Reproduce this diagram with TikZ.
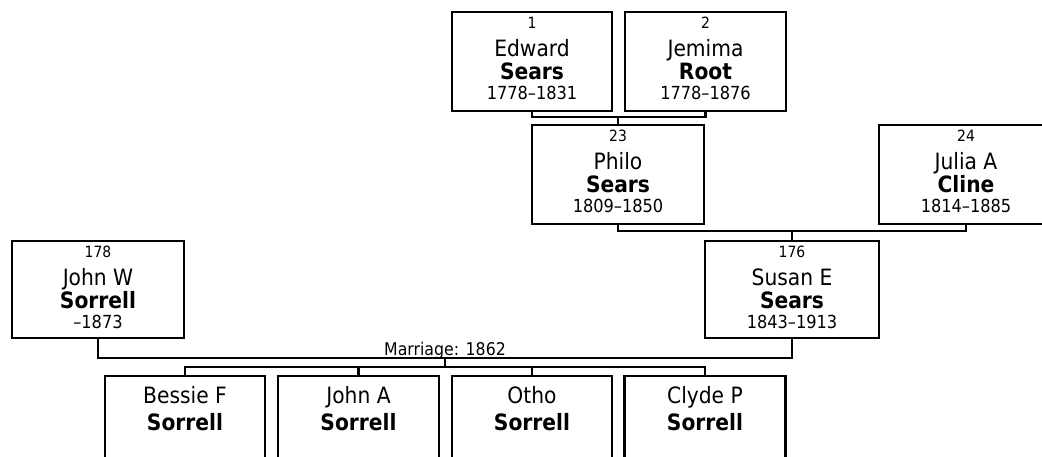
\documentclass[tikz,border=0pt]{standalone}
\usepackage{fontspec}
\setmainfont{DejaVu Sans Condensed}
\begin{document}
\begin{tikzpicture}[x=1pt,y=-1pt,
  pbox/.style={draw,line width=2.3pt,inner sep=0pt,minimum width=#1,anchor=north},
  pbox/.default=172pt,
  numtxt/.style={anchor=base,inner sep=0pt,font=\fontsize{15.5}{18}\selectfont},
  firsttxt/.style={anchor=base,inner sep=0pt,font=\fontsize{22.5}{26}\selectfont},
  lasttxt/.style={anchor=base,inner sep=0pt,font=\fontsize{22.5}{26}\selectfont\bfseries},
  datetxt/.style={anchor=base,inner sep=0pt,font=\fontsize{18}{21}\selectfont},
  marrtxt/.style={anchor=base,inner sep=0pt,font=\fontsize{17.5}{20}\selectfont},
  conn/.style={draw,line width=2.3pt}]
\useasboundingbox (0,0) rectangle (1042,456);
\clip (0,0) rectangle (1042,456);
% --- parent boxes
\node[pbox=160pt,minimum height=99pt] (edward) at (532,11) {};
\node[pbox=161pt,minimum height=99pt] (jemima) at (705.5,11) {};
\node[pbox=172pt,minimum height=99pt] (philo) at (618,124) {};
\node[pbox=174pt,minimum height=99pt] (julia) at (966,124) {};
\node[pbox=172pt,minimum height=97pt] (johnw) at (98,240) {};
\node[pbox=174pt,minimum height=97pt] (susan) at (792,240) {};
% --- children
\node[pbox=160pt,minimum height=110pt] (bessie) at (185,375) {};
\node[pbox=161pt,minimum height=110pt] (johna) at (358.5,375) {};
\node[pbox=160pt,minimum height=110pt] (otho) at (532,375) {};
\node[pbox=161pt,minimum height=110pt] (clyde) at (705,375) {};
% --- texts
\foreach \b/\n/\f/\l/\d in {edward/1/Edward/Sears/1778–1831,
  jemima/2/Jemima/Root/1778–1876,
  philo/23/Philo/Sears/1809–1850,
  julia/24/Julia A/Cline/1814–1885,
  johnw/178/John W/Sorrell/–1873,
  susan/176/Susan E/Sears/1843–1913}{
  \node[numtxt] (\b-num) at ([yshift=-17.5pt]\b.north) {\n};
  \node[firsttxt] (\b-first) at ([yshift=-45pt]\b.north) {\f};
  \node[lasttxt] (\b-last) at ([yshift=-68pt]\b.north) {\l};
  \node[datetxt] (\b-dates) at ([yshift=-88pt]\b.north) {\d};
}
\foreach \b/\f in {bessie/Bessie F, johna/John A, otho/Otho, clyde/Clyde P}{
  \node[firsttxt] (\b-first) at ([yshift=-28pt]\b.north) {\f};
  \node[lasttxt] (\b-last) at ([yshift=-55pt]\b.north) {Sorrell};
}
% --- connectors
\coordinate (c1) at (618,117);
\coordinate (c2) at (792,231);
\coordinate (c3) at (445,358);
\coordinate (c4) at (445,367);
\draw[conn] (edward.south) |- (c1) -| (jemima.south);
\draw[conn] (c1) -- (philo.north);
\draw[conn] (philo.south) |- (c2) -| (julia.south);
\draw[conn] (c2) -- (susan.north);
\draw[conn] (johnw.south) |- (c3) -| (susan.south);
\draw[conn] (c3) -- (c4);
\draw[conn] (bessie.north) |- (c4) -| (clyde.north);
\draw[conn] (johna.north) -- (johna.north |- c4);
\draw[conn] (otho.north) -- (otho.north |- c4);
\node[marrtxt] (marr) at (445,355) {Marriage: 1862};
\end{tikzpicture}
\end{document}
